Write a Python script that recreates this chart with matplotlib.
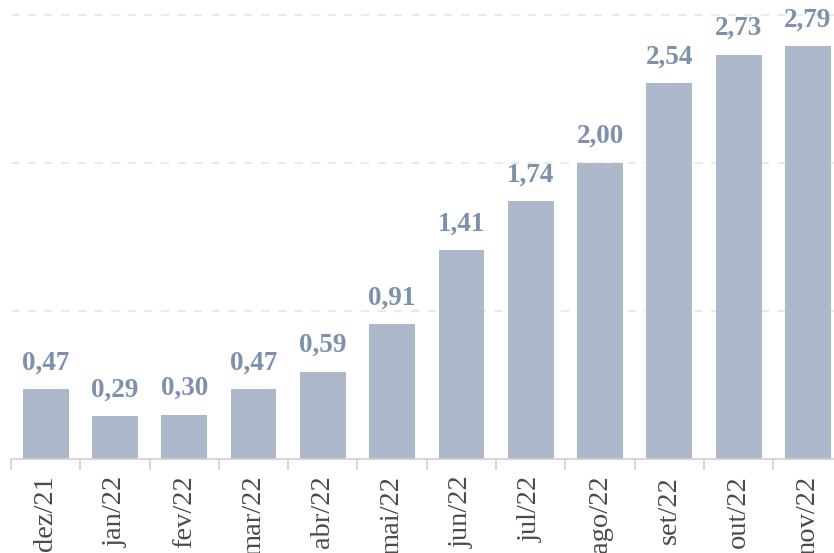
import matplotlib
matplotlib.use("Agg")
import matplotlib.pyplot as plt
import numpy as np

categories = ["dez/21", "jan/22", "fev/22", "mar/22", "abr/22", "mai/22",
              "jun/22", "jul/22", "ago/22", "set/22", "out/22", "nov/22"]
values = [0.47, 0.29, 0.30, 0.47, 0.59, 0.91, 1.41, 1.74, 2.00, 2.54, 2.73, 2.79]

plt.rcParams['font.family'] = ['Liberation Serif', 'DejaVu Serif']

W, H = 834, 553
fig = plt.figure(figsize=(W / 100, H / 100), dpi=100)
cat_w = 69.3
left_px, base_px, unit_px = 11, 459, 148
ymax = 3.1
ax = fig.add_axes([left_px / W, (H - base_px) / H, 12 * cat_w / W, ymax * unit_px / H])

x = np.arange(len(categories))
ax.bar(x, values, width=0.66, color="#adb8ca", zorder=2)
for xi, v in zip(x, values):
    ax.annotate(f"{v:.2f}".replace(".", ","), (xi, v), xytext=(0, 10),
                textcoords="offset points", ha="center", va="bottom",
                fontsize=19.5, fontweight="bold", color="#7d91ad", clip_on=False)

ax.set_xlim(-0.5, len(categories) - 0.5)
ax.set_ylim(0, ymax)
ax.set_yticks([1, 2, 3])
ax.yaxis.grid(True, linestyle=(0, (5, 5)), color="#e6e6e6", linewidth=1.2, zorder=0)
ax.tick_params(axis="y", left=False, labelleft=False)

ax.set_xticks(x)
ax.set_xticklabels(categories, rotation=90, fontsize=20.5, color="#4a4a4a", va="top")
ax.set_xticks(np.arange(-0.5, len(categories), 1), minor=True)
ax.tick_params(axis="x", which="major", length=0, pad=12)
ax.tick_params(axis="x", which="minor", length=8, color="#d0d0d0", width=1.2)

for s in ["top", "right", "left"]:
    ax.spines[s].set_visible(False)
ax.spines["bottom"].set_color("#d0d0d0")
ax.spines["bottom"].set_linewidth(1.2)

fig.savefig("out.png", dpi=100)
